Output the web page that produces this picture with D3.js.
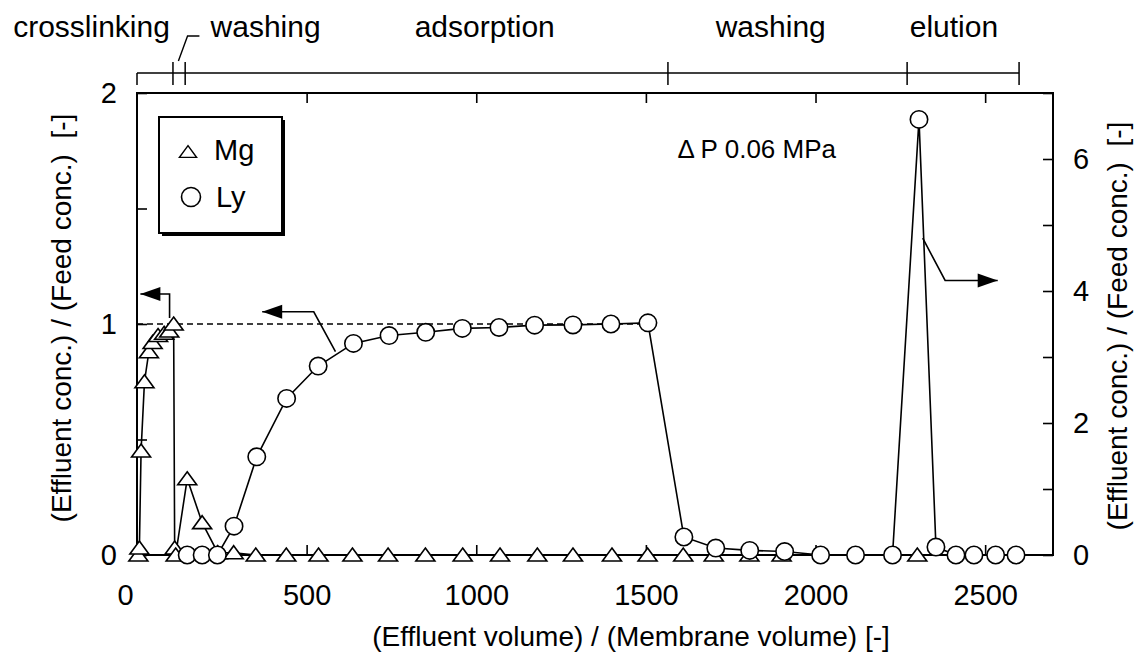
<!DOCTYPE html>
<html><head><meta charset="utf-8">
<script src="https://cdn.jsdelivr.net/npm/d3@7"></script>
<style>
body{margin:0;background:#fff}
svg{display:block}
text{font-family:"Liberation Sans",Arial,Helvetica,sans-serif;fill:#000}
</style>
</head><body>
<svg id="chart" width="1136" height="652"></svg>
<script>
// ---- data ----
const xTicks = [0, 500, 1000, 1500, 2000, 2500];
const xTopTicks = [500, 1000, 1500, 2000, 2500];
const yLeftTicks = [0, 0.5, 1, 1.5, 2];
const yLeftLabels = [0, 1, 2];
const yRightTicks = [0, 1, 2, 3, 4, 5, 6, 7];
const yRightLabels = [0, 2, 4, 6];

const mgVolume = [4, 7, 12, 22, 35, 46, 62, 80, 95, 108, 111, 114, 148, 192, 238, 285, 350, 440, 535, 635, 740, 850, 960, 1070, 1180, 1285, 1400, 1505, 1610, 1700, 1805, 1900, 2300];
const mgConc   = [0, 0.03, 0.45, 0.75, 0.88, 0.92, 0.95, 0.96, 0.97, 1.0, 0.03, 0, 0.33, 0.14, 0.01, 0.01, 0, 0, 0, 0, 0, 0, 0, 0, 0, 0, 0, 0, 0, 0, 0, 0, 0];

const lyVolume = [148, 192, 237, 286, 353, 441, 534, 638, 743, 851, 959, 1067, 1172, 1285, 1397, 1506, 1612, 1706, 1806, 1909, 2015, 2118, 2227, 2305, 2355, 2414, 2467, 2531, 2591];
const lyConc   = [0, 0, 0, 0.125, 0.425, 0.678, 0.818, 0.916, 0.95, 0.964, 0.981, 0.985, 0.995, 0.996, 1.0, 1.005, 0.078, 0.03, 0.02, 0.015, 0, 0, 0, 6.6, 0.12, 0, 0, 0, 0];
const lyAxis   = ["L","L","L","L","L","L","L","L","L","L","L","L","L","L","L","L","L","L","L","L","L","L","R","R","R","R","R","R","R"];

const phaseNames  = ["crosslinking", "washing", "adsorption", "washing", "elution"];
const phaseLabelX = [-134, 379, 1025, 1868, 2408];
const phaseBounds = [0, 106, 142, 1565, 2270, 2600];

const feedLevel = 1;          // dashed reference line (left axis)
const feedLineEnd = 1506;
const mgArrow      = [[96, 1.026], [96, 1.13], [10, 1.13]];        // left axis
const lyLeftArrow  = [[585, 0.88], [521, 1.053], [369, 1.053]];    // left axis
const lyRightArrow = [[2316, 4.8], [2382, 4.16], [2537, 4.16]];    // right axis
const washLeader   = [122, 149, 184];

// ---- layout ----
const svg = d3.select("#chart");
const L = 137, R = 1053, T = 93, B = 555;
const x = d3.scaleLinear().domain([0, 2700]).range([L, R]);
const yL = d3.scaleLinear().domain([0, 2]).range([B, T]);
const yR = d3.scaleLinear().domain([0, 7]).range([B, T]);
const tickFont = 29;

// box
svg.append("rect").attr("x", L).attr("y", T).attr("width", R - L).attr("height", B - T)
  .attr("fill", "none").attr("stroke", "#000").attr("stroke-width", 2);

function styleAxis(g) {
  g.select(".domain").remove();
  g.selectAll(".tick line").attr("stroke", "#000").attr("stroke-width", 1.6);
  g.selectAll(".tick text").attr("font-size", tickFont).attr("font-family", '"Liberation Sans",Arial,sans-serif').attr("fill", "#000");
}
const gx = svg.append("g").attr("transform", `translate(0,${B})`)
  .call(d3.axisBottom(x).tickValues(xTicks).tickSizeInner(-10).tickSizeOuter(0).tickPadding(29).tickFormat(d3.format("d")))
  .call(styleAxis);
gx.selectAll(".tick text").filter(d => d === 0).attr("dx", -12);
svg.append("g").attr("transform", `translate(0,${T})`)
  .call(d3.axisTop(x).tickValues(xTopTicks).tickSizeInner(-10).tickSizeOuter(0).tickFormat(""))
  .call(styleAxis);
svg.append("g").attr("transform", `translate(${L},0)`)
  .call(d3.axisLeft(yL).tickValues(yLeftTicks).tickSizeInner(-10).tickSizeOuter(0).tickPadding(20)
    .tickFormat(d => yLeftLabels.includes(d) ? d : ""))
  .call(styleAxis);
svg.append("g").attr("transform", `translate(${R},0)`)
  .call(d3.axisRight(yR).tickValues(yRightTicks).tickSizeInner(-10).tickSizeOuter(0).tickPadding(20)
    .tickFormat(d => yRightLabels.includes(d) ? d : ""))
  .call(styleAxis);

// axis titles
svg.append("text").attr("x", 631).attr("y", 646).attr("text-anchor", "middle").attr("font-size", 28)
  .text("(Effluent volume) / (Membrane volume) [-]");
svg.append("text").attr("transform", "translate(71,318) rotate(-90)").attr("text-anchor", "middle").attr("font-size", 28)
  .text("(Effluent conc.) / (Feed conc.)\u00a0\u00a0[-]");
svg.append("text").attr("transform", "translate(1127,326) rotate(-90)").attr("text-anchor", "middle").attr("font-size", 28)
  .text("(Effluent conc.) / (Feed conc.)\u00a0\u00a0[-]");

// phase bracket
const bY = 73;
svg.append("line").attr("x1", x(phaseBounds[0])).attr("x2", x(phaseBounds[phaseBounds.length - 1]))
  .attr("y1", bY).attr("y2", bY).attr("stroke", "#000").attr("stroke-width", 1.5);
phaseBounds.forEach((b, i) => {
  svg.append("line").attr("x1", x(b)).attr("x2", x(b))
    .attr("y1", i === 0 ? bY : bY - 11).attr("y2", bY + 12)
    .attr("stroke", "#000").attr("stroke-width", 1.5);
});
svg.append("polyline")
  .attr("points", [[x(washLeader[0]), 61], [x(washLeader[1]), 36], [x(washLeader[2]), 36]].map(p => p.join(",")).join(" "))
  .attr("fill", "none").attr("stroke", "#000").attr("stroke-width", 1.4);
phaseNames.forEach((n, i) => {
  svg.append("text").attr("x", x(phaseLabelX[i])).attr("y", 37).attr("text-anchor", "middle")
    .attr("font-size", 30).text(n);
});

// dashed feed line
svg.append("line").attr("x1", x(0)).attr("x2", x(feedLineEnd)).attr("y1", yL(feedLevel)).attr("y2", yL(feedLevel))
  .attr("stroke", "#000").attr("stroke-width", 1.4).attr("stroke-dasharray", "6,4");

// arrows
function arrow(pts, ys) {
  const p = pts.map(d => [x(d[0]), ys(d[1])]);
  svg.append("polyline").attr("points", p.map(q => q.join(",")).join(" "))
    .attr("fill", "none").attr("stroke", "#000").attr("stroke-width", 1.6);
  const tip = p[p.length - 1], prev = p[p.length - 2];
  const ang = Math.atan2(tip[1] - prev[1], tip[0] - prev[0]);
  const len = 20, hw = 7;
  const bx = tip[0] - len * Math.cos(ang), by = tip[1] - len * Math.sin(ang);
  const nx = -Math.sin(ang) * hw, ny = Math.cos(ang) * hw;
  svg.append("path").attr("d", `M${tip[0]},${tip[1]}L${bx + nx},${by + ny}L${bx - nx},${by - ny}Z`).attr("fill", "#000");
}
arrow(mgArrow, yL);
arrow(lyLeftArrow, yL);
arrow(lyRightArrow, yR);

// series
const mgData = mgVolume.map((v, i) => ({ x: v, y: mgConc[i] }));
const lyData = lyVolume.map((v, i) => ({ x: v, y: lyConc[i], a: lyAxis[i] }));
const triPath = "M0,-7L9.5,6L-9.5,6Z";

svg.append("path").datum(mgData)
  .attr("d", d3.line().x(d => x(d.x)).y(d => yL(d.y)))
  .attr("fill", "none").attr("stroke", "#000").attr("stroke-width", 1.6);
svg.selectAll(".mg").data(mgData).enter().append("path").attr("class", "mg")
  .attr("transform", d => `translate(${x(d.x)},${yL(d.y)})`).attr("d", triPath)
  .attr("fill", "#fff").attr("stroke", "#000").attr("stroke-width", 1.6);

const lyY = d => (d.a === "R" ? yR(d.y) : yL(d.y));
svg.append("path").datum(lyData)
  .attr("d", d3.line().x(d => x(d.x)).y(lyY))
  .attr("fill", "none").attr("stroke", "#000").attr("stroke-width", 1.6);
svg.selectAll(".ly").data(lyData).enter().append("circle").attr("class", "ly")
  .attr("cx", d => x(d.x)).attr("cy", lyY).attr("r", 8.7)
  .attr("fill", "#fff").attr("stroke", "#000").attr("stroke-width", 1.6);

// legend
const lg = svg.append("g");
lg.append("rect").attr("x", 162).attr("y", 120).attr("width", 123).attr("height", 116).attr("fill", "#000");
lg.append("rect").attr("x", 159).attr("y", 117).attr("width", 123).attr("height", 116)
  .attr("fill", "#fff").attr("stroke", "#000").attr("stroke-width", 2);
lg.append("path").attr("transform", "translate(188,152) scale(0.9)").attr("d", triPath)
  .attr("fill", "#fff").attr("stroke", "#000").attr("stroke-width", 1.6);
lg.append("text").attr("x", 214).attr("y", 160).attr("font-size", 29).text("Mg");
lg.append("circle").attr("cx", 191).attr("cy", 197).attr("r", 9.5)
  .attr("fill", "#fff").attr("stroke", "#000").attr("stroke-width", 1.6);
lg.append("text").attr("x", 216).attr("y", 207).attr("font-size", 29).text("Ly");

// annotation
svg.append("text").attr("x", 836).attr("y", 158).attr("text-anchor", "end").attr("font-size", 26)
  .text("Δ P 0.06 MPa");
</script>
</body></html>
